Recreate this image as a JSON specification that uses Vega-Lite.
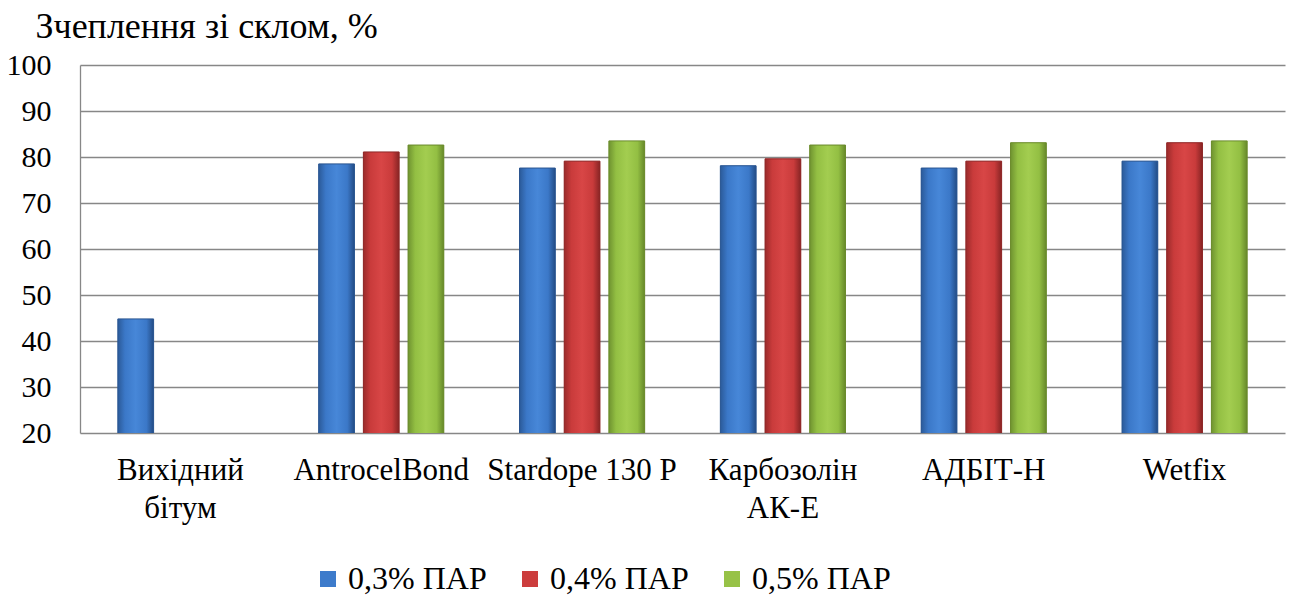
{
  "$schema": "https://vega.github.io/schema/vega-lite/v6.json",
  "autosize": "none",
  "width": 1205,
  "height": 368,
  "padding": {"left": 80, "top": 65, "right": 5, "bottom": 162},
  "background": "white",
  "config": {
    "view": {"stroke": null}
  },
  "data": {
    "values": [
      {"material": "Вихідний бітум", "series": "0,3% ПАР", "value": 44.8},
      {"material": "AntrocelBond", "series": "0,3% ПАР", "value": 78.5},
      {"material": "AntrocelBond", "series": "0,4% ПАР", "value": 81.1},
      {"material": "AntrocelBond", "series": "0,5% ПАР", "value": 82.6},
      {"material": "Stardope 130 P", "series": "0,3% ПАР", "value": 77.6},
      {"material": "Stardope 130 P", "series": "0,4% ПАР", "value": 79.1},
      {"material": "Stardope 130 P", "series": "0,5% ПАР", "value": 83.5},
      {"material": "Карбозолін АК-Е", "series": "0,3% ПАР", "value": 78.1},
      {"material": "Карбозолін АК-Е", "series": "0,4% ПАР", "value": 79.6},
      {"material": "Карбозолін АК-Е", "series": "0,5% ПАР", "value": 82.6},
      {"material": "АДБІТ-Н", "series": "0,3% ПАР", "value": 77.6},
      {"material": "АДБІТ-Н", "series": "0,4% ПАР", "value": 79.1},
      {"material": "АДБІТ-Н", "series": "0,5% ПАР", "value": 83.1},
      {"material": "Wetfix", "series": "0,3% ПАР", "value": 79.1},
      {"material": "Wetfix", "series": "0,4% ПАР", "value": 83.1},
      {"material": "Wetfix", "series": "0,5% ПАР", "value": 83.5}
    ]
  },
  "encoding": {
    "x": {
      "field": "material",
      "type": "nominal",
      "sort": null,
      "scale": {"paddingInner": 0.377, "paddingOuter": 0.1885},
      "axis": {
        "title": null,
        "labelAngle": 0,
        "labelFont": "Liberation Serif",
        "labelFontSize": 31,
        "labelColor": "black",
        "labelPadding": 46,
        "labelLineHeight": 38,
        "labelBaseline": "alphabetic",
        "labelOverlap": false,
        "labelLimit": 400,
        "ticks": false,
        "domain": false,
        "labelExpr": "datum.label == 'Вихідний бітум' ? ['Вихідний', 'бітум'] : datum.label == 'Карбозолін АК-Е' ? ['Карбозолін', 'АК-Е'] : datum.label"
      }
    },
    "xOffset": {"field": "series", "type": "nominal", "scale": {"paddingInner": 0.2, "paddingOuter": 0, "domain": ["0,3% ПАР", "0,4% ПАР", "0,5% ПАР"]}},
    "y": {
      "field": "value",
      "type": "quantitative",
      "scale": {"domain": [20, 100], "zero": false, "nice": false},
      "axis": {
        "title": "Зчеплення зі склом, %",
        "titleFont": "Liberation Serif",
        "titleColor": "black",
        "titleAngle": 0,
        "titleAlign": "left",
        "titleBaseline": "alphabetic",
        "titleX": -45,
        "titleY": -28,
        "titleFontSize": 36,
        "titleFontWeight": "normal",
        "labelFont": "Liberation Serif",
        "labelColor": "black",
        "labelFontSize": 30,
        "labelPadding": 29,
        "labelOverlap": false,
        "values": [20, 30, 40, 50, 60, 70, 80, 90, 100],
        "ticks": false,
        "domainColor": "#878787",
        "gridColor": "#878787",
        "gridWidth": 1.3,
        "domainWidth": 1.3
      }
    }
  },
  "layer": [
    {
      "mark": {"type": "bar", "clip": true},
      "encoding": {
        "color": {
          "field": "series",
          "type": "nominal",
          "scale": {"domain": ["0,3% ПАР", "0,4% ПАР", "0,5% ПАР"], "range": ["#3D7BCB", "#CC3D3D", "#97C247"]},
          "legend": {
            "title": null,
            "orient": "none",
            "direction": "horizontal",
            "legendX": 232,
            "legendY": 498,
            "padding": 0,
            "symbolType": "square",
            "symbolSize": 256,
            "symbolStrokeWidth": 0,
            "labelFont": "Liberation Serif",
            "labelColor": "black",
            "labelFontSize": 32,
            "labelOffset": 4,
            "columnPadding": 27
          }
        }
      }
    },
    {
      "transform": [{"filter": "datum.series == '0,3% ПАР'"}],
      "mark": {
        "type": "bar",
        "clip": true,
        "stroke": "#2A5590",
        "strokeWidth": 1,
        "fill": {"gradient": "linear", "x1": 0, "y1": 0, "x2": 1, "y2": 0, "stops": [
          {"offset": 0, "color": "#2B5A99"},
          {"offset": 0.2, "color": "#3B78C8"},
          {"offset": 0.5, "color": "#4787D8"},
          {"offset": 0.8, "color": "#3B78C8"},
          {"offset": 1, "color": "#234C85"}
        ]}
      }
    },
    {
      "transform": [{"filter": "datum.series == '0,4% ПАР'"}],
      "mark": {
        "type": "bar",
        "clip": true,
        "stroke": "#8E2828",
        "strokeWidth": 1,
        "fill": {"gradient": "linear", "x1": 0, "y1": 0, "x2": 1, "y2": 0, "stops": [
          {"offset": 0, "color": "#9A2B2B"},
          {"offset": 0.2, "color": "#C93B3B"},
          {"offset": 0.5, "color": "#D84646"},
          {"offset": 0.8, "color": "#C93B3B"},
          {"offset": 1, "color": "#872424"}
        ]}
      }
    },
    {
      "transform": [{"filter": "datum.series == '0,5% ПАР'"}],
      "mark": {
        "type": "bar",
        "clip": true,
        "stroke": "#6A8A2C",
        "strokeWidth": 1,
        "fill": {"gradient": "linear", "x1": 0, "y1": 0, "x2": 1, "y2": 0, "stops": [
          {"offset": 0, "color": "#6F9330"},
          {"offset": 0.2, "color": "#93BF43"},
          {"offset": 0.5, "color": "#A3CD50"},
          {"offset": 0.8, "color": "#93BF43"},
          {"offset": 1, "color": "#66882A"}
        ]}
      }
    }
  ]
}
